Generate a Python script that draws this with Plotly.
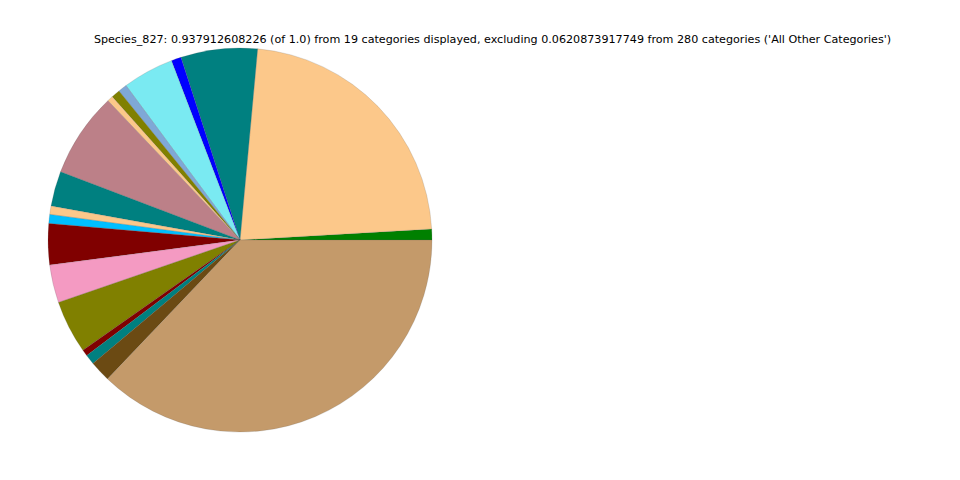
import plotly.graph_objects as go

categories = [f"Category_{i}" for i in range(1, 20)]
values = [0.00860, 0.2121, 0.0604, 0.00781, 0.0404, 0.00690, 0.00690, 0.00456,
          0.0670, 0.0277, 0.00651, 0.00703, 0.0325, 0.0299, 0.0419, 0.00506,
          0.00781, 0.0165, 0.3481]
# colours listed in slice order
slice_colors = ["#008000", "#FCC88A", "#008080", "#0000FF", "#7AEAF2", "#7FA8D6",
                "#808000", "#FCC88A", "#BC8088", "#008080", "#FCC88A", "#00BFFF",
                "#800000", "#F49AC2", "#808000", "#800000", "#008080", "#6B4A13",
                "#C49A6A"]

title_text = ("Species_827: 0.937912608226 (of 1.0) from 19 categories displayed, "
              "excluding 0.0620873917749 from 280 categories ('All Other Categories')")

# first slice starts at 3 o'clock going counterclockwise
start_offset = values[0] / sum(values) * 360

fig = go.Figure(go.Pie(
    labels=categories,
    values=values,
    sort=False,
    direction="counterclockwise",
    rotation=90 - start_offset,
    textinfo="none",
    hoverinfo="label+value",
    marker=dict(colors=slice_colors, line=dict(color="rgba(80,80,80,0.35)", width=0.5)),
    domain=dict(x=[40 / 960, 424 / 960], y=[1 - 424 / 480, 1 - 40 / 480]),
    showlegend=False,
))

fig.update_layout(
    width=960, height=480,
    margin=dict(l=0, r=0, t=0, b=0),
    paper_bgcolor="white",
    plot_bgcolor="white",
    title=dict(text=title_text, x=484.5 / 960, xanchor="center", y=1 - 31 / 480, yanchor="middle",
               font=dict(family="DejaVu Sans", size=11.15, color="black")),
)

fig.write_html("out.html")
